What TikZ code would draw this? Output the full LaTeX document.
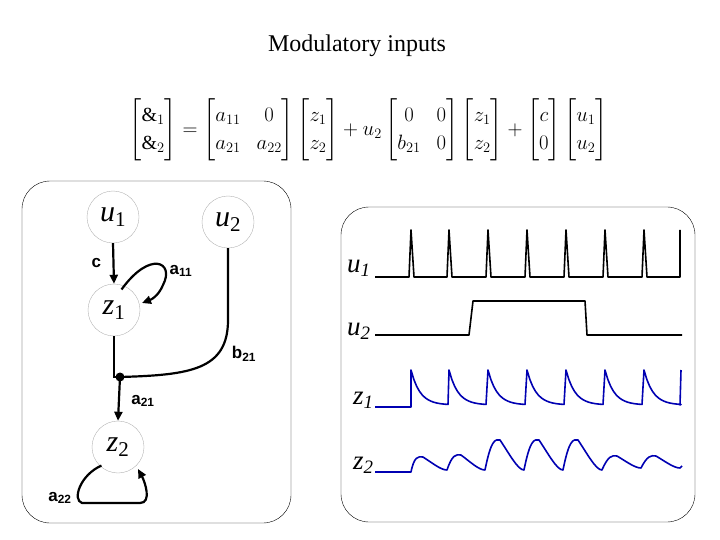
\documentclass[tikz,border=0pt]{standalone}
\usepackage{amsmath}
\usepackage{fontspec}
\setmainfont{Liberation Serif}
\newfontfamily\lblfont{Liberation Sans}
\usetikzlibrary{arrows.meta}
\tikzset{
  state/.style={circle,draw=gray!60,thin,minimum size=52pt,inner sep=0pt,font=\fontsize{30}{30}\selectfont},
  conn/.style={line width=2.2pt,-{Triangle[length=9pt,width=8pt]}},
  wire/.style={line width=2.2pt},
  lbl/.style={font=\lblfont\bfseries\fontsize{17}{17}\selectfont},
  panel/.style={draw,rounded corners=28pt,thin},
  trace/.style={line width=1.6pt,line join=round},
  tname/.style={font=\fontsize{27}{27}\selectfont\itshape}
}
\begin{document}
\begin{tikzpicture}[x=1pt,y=-1pt]
    \useasboundingbox (0,0) rectangle (720,540);

    % Titre et equation
    \node (title) at (357,46) {\fontsize{24}{24}\selectfont Modulatory inputs};
    \node (eq) at (366,130) {\fontsize{20}{20}\selectfont\renewcommand{\arraystretch}{1.4}\setlength{\arraycolsep}{8pt}
      $\begin{bmatrix}\&_1\\ \&_2\end{bmatrix}
      =\begin{bmatrix}a_{11}&0\\ a_{21}&a_{22}\end{bmatrix}
      \begin{bmatrix}z_1\\ z_2\end{bmatrix}
      +u_2\begin{bmatrix}0&0\\ b_{21}&0\end{bmatrix}
      \begin{bmatrix}z_1\\ z_2\end{bmatrix}
      +\begin{bmatrix}c\\ 0\end{bmatrix}
      \begin{bmatrix}u_1\\ u_2\end{bmatrix}$};

    % Panneau gauche : graphe
    \draw[panel] (22,181) rectangle (291,523);
    \node[state] (u1) at (113,217) {\textit{u}\textsubscript{1}};
    \node[state] (u2) at (228,222) {\textit{u}\textsubscript{2}};
    \node[state] (z1) at (114,310) {\textit{z}\textsubscript{1}};
    \node[state] (z2) at (118,447) {\textit{z}\textsubscript{2}};
    \fill (120,377) circle (4.5pt) coordinate (j);

    \draw[conn] (u1.south) -- (z1.north) node[lbl,midway,left=8pt] {c};
    \draw[conn] (z1.north east) ++(-11,-2) .. controls (150,250) and (175,262) .. (163,285)
      .. controls (158,297) and (150,300) .. (142,303);
    \node[lbl] (la11) at (181,271) {a\textsubscript{11}};
    \draw[wire] (z1.south) |- (j);
    \draw[wire] (u2.south) -- (228,320) .. controls (228,370) and (190,375) .. (j);
    \node[lbl] (lb21) at (244,354) {b\textsubscript{21}};
    \draw[conn] (j) -- (z2.north) node[lbl,pos=0.55,right=8pt] {a\textsubscript{21}};
    \draw[conn] (z2.south west) ++(2,0) .. controls (80,475) and (72,500) .. (82,503)
      -- (140,503) .. controls (152,503) and (145,482) .. (138,469);
    \node[lbl] (la22) at (60,498) {a\textsubscript{22}};

    % Panneau droit : signaux
    \draw[panel] (341,207) rectangle (695,522);

    % u1 : impulsions
    \draw[trace] (375,277) -- (409,277)
      \foreach \s in {449,488,527,566,605,644,680} {-- ++(2,-47) -- ++(3,47) -- (\s-2,277)}
      -- (680,277) -- (680,230);
    \node[tname,anchor=east] (tu1) at (374,268) {u\textsubscript{1}};

    % u2 : creneau
    \draw[trace] (375,335) -- (469,335) -- (473,301) -- (585,301) -- (587,335) -- (682,335);
    \node[tname,anchor=east] (tu2) at (374,331) {u\textsubscript{2}};

    % z1 : reponse rapide
    \draw[trace,blue!70!black] (375,407) -- (411,407)
      \foreach \s in {411,449,488,527,566,605,644} {-- (\s,370)
        -- plot[domain=0:37,samples=14,variable=\t] ({\s+\t},{405-35*exp(-\t/9)})}
      -- (680,405) -- (681,370);
    \node[tname,anchor=east] (tz1) at (377,400) {z\textsubscript{1}};

    % z2 : reponse lente
    \draw[trace,blue!70!black] (375,472) -- (411,472)
      \foreach \s/\p/\b in {411/457/470,449/455/470,488/440/470,527/440/470,566/440/470,605/456/468,644/456/468}
        {.. controls (\s+3,\p) and (\s+7,\p-1) .. (\s+12,\p) .. controls (\s+22,{(\p+\b)/2}) and (\s+30,\b) .. (\s+36,\b)}
      -- (682,466);
    \node[tname,anchor=east] (tz2) at (377,465) {z\textsubscript{2}};

  \end{tikzpicture}
\end{document}
